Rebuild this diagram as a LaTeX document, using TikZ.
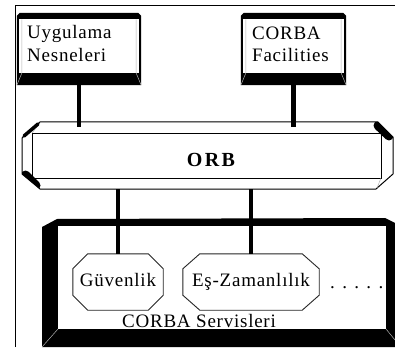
\documentclass[tikz,border=0pt]{standalone}
\usepackage{fontspec}
\setmainfont{Liberation Serif}[LetterSpace=4]
\usetikzlibrary{calc}
\newcommand\drawbutton[1]{%
  \fill ([yshift=-3pt]#1.north west) -- ([xshift=3pt]#1.north west) -- ([xshift=-3pt]#1.north east) -- ([yshift=-3pt]#1.north east) -- (#1.south east) -- (#1.south west) -- cycle;
  \fill[white] ([xshift=2pt,yshift=-6.5pt]#1.north west) rectangle ([xshift=-2pt,yshift=12pt]#1.south east);
  \draw[bevel] ([xshift=5pt,yshift=-6.5pt]#1.north west) -- ([xshift=5pt,yshift=12pt]#1.south west) -- (#1.south west);
  \draw[bevel] ([xshift=-5pt,yshift=-6.5pt]#1.north east) -- ([xshift=-5pt,yshift=12pt]#1.south east) -- (#1.south east);
}
\newcommand\drawoct[2]{%
  \draw[oct] ($(#1.north west)+(#2,0)$) -- ($(#1.north east)+(-#2,0)$) -- ($(#1.north east)+(0,15)$) -- ($(#1.south east)+(0,-15)$) -- ($(#1.south east)+(-#2,0)$) -- ($(#1.south west)+(#2,0)$) -- ($(#1.south west)+(0,-15)$) -- ($(#1.north west)+(0,15)$) -- cycle;
}
\begin{document}
\begin{tikzpicture}[x=1pt,y=-1pt,
  conn/.style={line width=4.6pt},
  lbl/.style={inner sep=0pt, anchor=base west, font=\fontsize{19}{22}\selectfont},
  holder/.style={draw=none, inner sep=0pt},
  octbox/.style={draw=none, inner sep=0pt, minimum height=56pt, text height=12pt, text depth=3pt, font=\fontsize{19}{22}\selectfont},
  oct/.style={draw=black!85, line width=0.9pt},
  bevel/.style={draw=gray!60, line width=0.5pt},
  blob/.style={line width=9pt, line cap=round},
]
\useasboundingbox (0,0) rectangle (395,347);
% outer frame
\draw[line width=0.9pt] (15,347) -- (15,5) -- (395,5);

% holder nodes
\node[holder, minimum width=124pt, minimum height=72pt] (ua) at (79,49) {};
\node[holder, minimum width=105pt, minimum height=72pt] (cf) at (293.5,49) {};
\node[holder, minimum width=371pt, minimum height=67pt] (orb) at (207.5,155.5) {};
\node[holder, minimum width=353pt, minimum height=128pt] (sv) at (218.5,283) {};

% buttons
\drawbutton{ua}
\drawbutton{cf}

% ORB bevel box
\filldraw[fill=white, draw=black, line width=1pt] (22,138) -- (40,122) -- (378,122) -- (393,137) -- (393,174) -- (376,189) -- (40,189) -- (22,174) -- cycle;
\draw[line width=0.8pt] (32,133) rectangle (381,178);
\draw[bevel] (32,133) -- (40,123);
\draw[bevel] (381,178) -- (377,188);
\draw[line width=3.5pt, line cap=round] (24,136) -- (38,124);
\begin{scope}
\clip (22,138) -- (40,122) -- (378,122) -- (393,137) -- (393,174) -- (376,189) -- (40,189) -- (22,174) -- cycle;
\draw[blob] (25.5,175) -- (36,185.5);
\draw[blob] (378,125.5) -- (389,136);
\end{scope}

% services box
\fill (42,227) -- (57,219) -- (385,218) -- (395,223) -- (395,347) -- (42,347) -- cycle;
\fill[white] (58,226) rectangle (386,329);
\draw[bevel] (58,329) -- (42,347);
\draw[bevel] (386,329) -- (395,340);

% service octagons
\node[octbox, minimum width=90pt] (gv) at (118,282) {Güvenlik};
\node[octbox, minimum width=136pt] (ez) at (251,282) {Eş-Zamanlılık};
\drawoct{gv}{15}
\drawoct{ez}{17}

% connectors
\draw[conn] (ua.south) -- ([yshift=-5pt]ua.south |- orb.north);
\draw[conn] (cf.south) -- ([yshift=-5pt]cf.south |- orb.north);
\draw[conn] (gv.north) -- (gv.north |- orb.south);
\draw[conn] (ez.north) -- (ez.north |- orb.south);

% labels
\node[lbl] (u1) at (27,39) {Uygulama};
\node[lbl] (u2) at (27,62) {Nesneleri};
\node[lbl] (c1) at (252,40) {CORBA};
\node[lbl] (c2) at (252,62) {Facilities};
\node[inner sep=0pt, anchor=base, font=\fontsize{20}{24}\bfseries\addfontfeature{LetterSpace=12}] (orbt) at (211,167) {ORB};
\node[lbl] (svt) at (122,327) {CORBA Servisleri};
\node[lbl] (dots) at (330,288) {. . . . .};
\end{tikzpicture}
\end{document}
